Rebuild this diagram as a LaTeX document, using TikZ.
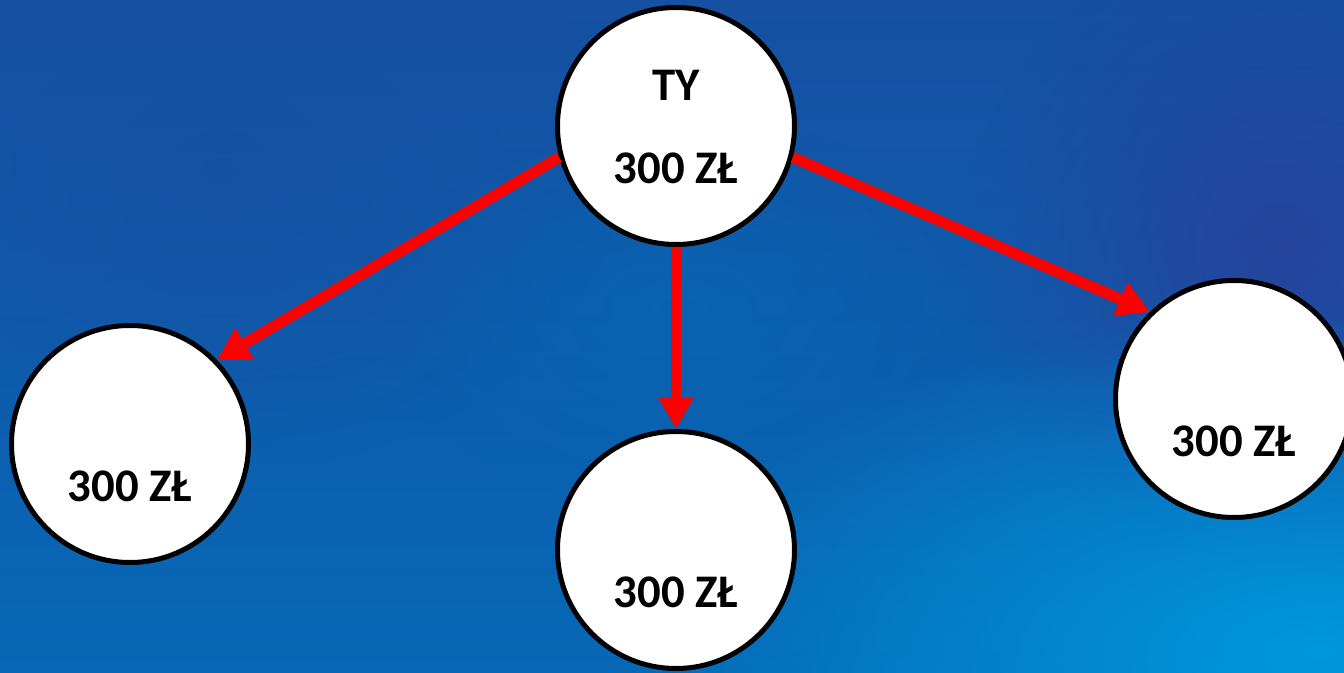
\documentclass[tikz,border=0pt]{standalone}
\usepackage{fontspec}
\setmainfont{Carlito}
\usetikzlibrary{arrows.meta,fadings}
\definecolor{bgA}{RGB}{22,80,162}
\definecolor{bgB}{RGB}{6,104,182}
\definecolor{bgC}{RGB}{0,152,222}
\definecolor{bgD}{RGB}{40,66,155}
\definecolor{arrowred}{RGB}{255,0,0}
\tikzfading[name=soft, inner color=transparent!0, outer color=transparent!100]
\tikzset{
  person/.style={circle, draw=black, line width=1.42pt, fill=white, minimum size=2.37cm, inner sep=0pt},
  amount/.style={font=\bfseries\fontsize{13.3}{16}\selectfont, text=black, inner sep=0pt},
  flow/.style={draw=arrowred, line width=3.1pt, -{Triangle[length=0.32cm,width=0.34cm]}}
}
\begin{document}
\begin{tikzpicture}
\useasboundingbox (0,0) rectangle (13.44,6.72);
\clip (0,0) rectangle (13.44,6.72);
% background
\shade[top color=bgA, bottom color=bgB] (0,0) rectangle (13.44,6.72);
\fill[bgD, path fading=soft, opacity=0.9] (12.8,4.2) circle [radius=3.2cm];
\fill[bgC, path fading=soft] (13.2,0.2) ellipse [x radius=7cm, y radius=3.4cm];
\fill[bgA, path fading=soft, opacity=0.7] (2.2,5.0) ellipse [x radius=4cm, y radius=3cm];
\fill[bgB, path fading=soft, opacity=0.6] (6.8,3.6) ellipse [x radius=3cm, y radius=2cm];
% circles
\node[person] (ty) at (6.76,5.46) {};
\node[person] (l) at (1.30,2.28) {};
\node[person] (m) at (6.76,1.22) {};
\node[person] (r) at (12.34,2.73) {};
% texts
\node[amount] (tyname) at (6.76,5.87) {TY};
\node[amount] (tyamt) at (6.76,5.04) {300 ZŁ};
\node[amount] (lamt) at (1.30,1.86) {300 ZŁ};
\node[amount] (mamt) at (6.76,0.80) {300 ZŁ};
\node[amount] (ramt) at (12.34,2.31) {300 ZŁ};
% arrows
\draw[flow] (ty.195) -- (l.44);
\draw[flow] (ty.south) -- (m.north);
\draw[flow] (ty.345) -- (r.134);
\end{tikzpicture}
\end{document}
